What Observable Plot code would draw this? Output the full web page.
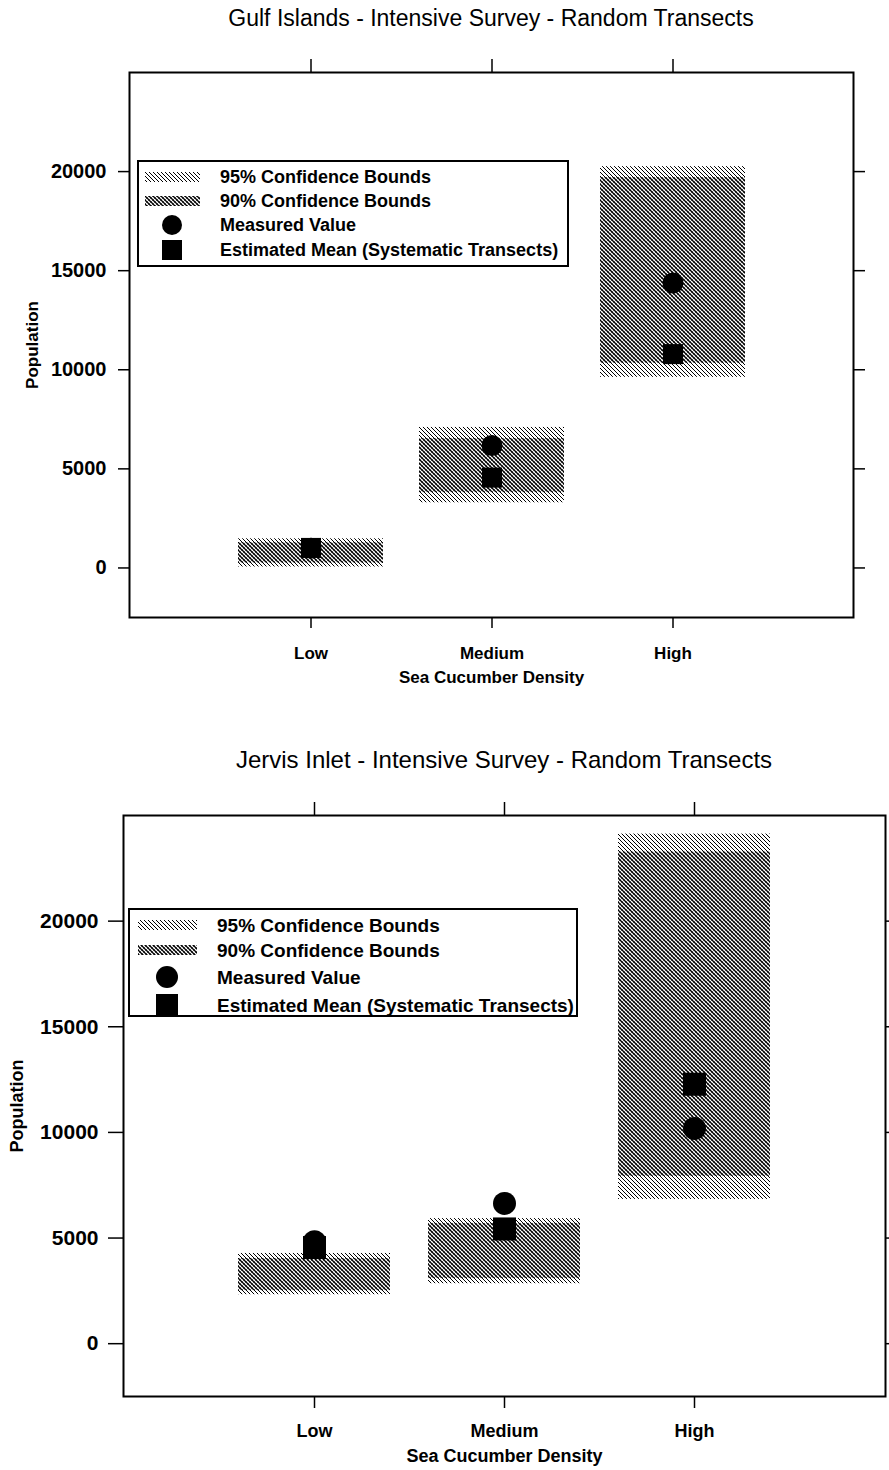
<!DOCTYPE html>
<html><head><meta charset="utf-8">
<script src="https://cdn.jsdelivr.net/npm/d3@7"></script>
<script src="https://cdn.jsdelivr.net/npm/@observablehq/plot@0.6"></script>
<style>
body{margin:0;background:#fff;font-family:"Liberation Sans",Arial,sans-serif;}
#page{position:relative;width:889px;height:1470px;overflow:hidden;background:#fff;}
.title{position:absolute;transform:translate(-50%,-50%);white-space:nowrap;color:#000;}
.chart{position:absolute;left:0;}
.legend{position:absolute;overflow:visible;}
</style></head><body>
<svg width="0" height="0" style="position:absolute">
<defs>
<pattern id="p95" patternUnits="userSpaceOnUse" width="4" height="4">
  <rect width="4" height="4" fill="#fff"/>
  <path d="M-1,-1L5,5M-1,3L1,5M3,-1L5,1" stroke="#000" stroke-width="1.0"/>
</pattern>
<pattern id="p90" patternUnits="userSpaceOnUse" width="4" height="4">
  <rect width="4" height="4" fill="#fff"/>
  <path d="M-1,-1L5,5M-1,3L1,5M3,-1L5,1" stroke="#000" stroke-width="1.3"/>
  <path d="M-1,5L5,-1M-1,1L1,-1M3,5L5,3" stroke="#000" stroke-width="0.5"/>
</pattern>
</defs>
</svg>
<div id="page">
  <div class="title" id="t1" style="left:491px;top:18px;font-size:23px;">Gulf Islands - Intensive Survey - Random Transects</div>
  <div class="title" id="t2" style="left:504px;top:760px;font-size:24px;">Jervis Inlet - Intensive Survey - Random Transects</div>
  <div class="chart" id="c1" style="top:0px;"></div>
  <div class="chart" id="c2" style="top:740px;"></div>
</div>
<script>
// ---- data ----
const categories = ["Low", "Medium", "High"];
const yTicks = [0, 5000, 10000, 15000, 20000];
const yDomain = [-2500, 25000];

// Gulf Islands
const gulf95Lo = [50, 3290, 9620];
const gulf95Hi = [1470, 7090, 20250];
const gulf90Lo = [250, 3800, 10330];
const gulf90Hi = [1270, 6530, 19700];
const gulfMeasured = [1000, 6180, 14380];
const gulfMean = [1010, 4560, 10790];

// Jervis Inlet
const jervis95Lo = [2320, 2840, 6830];
const jervis95Hi = [4270, 5920, 24120];
const jervis90Lo = [2510, 3080, 7920];
const jervis90Hi = [4030, 5690, 23270];
const jervisMeasured = [4830, 6640, 10190];
const jervisMean = [4550, 5430, 12280];

const legendLabels = ["95% Confidence Bounds", "90% Confidence Bounds", "Measured Value", "Estimated Mean (Systematic Transects)"];

const FONT = '"Liberation Sans", Arial, sans-serif';

function makeChart(cfg) {
  const rows = categories.map((c, i) => ({
    cat: c, lo95: cfg.lo95[i], hi95: cfg.hi95[i], lo90: cfg.lo90[i], hi90: cfg.hi90[i],
    measured: cfg.measured[i], mean: cfg.mean[i]
  }));
  return Plot.plot({
    width: 889, height: cfg.height,
    marginLeft: cfg.ml, marginRight: cfg.mr, marginTop: cfg.mt, marginBottom: cfg.mb,
    style: {fontFamily: FONT, fontSize: cfg.fs + "px", fontWeight: "bold", color: "#000", background: "transparent", overflow: "visible"},
    x: {type: "band", domain: categories, paddingInner: 0.2, paddingOuter: 0.6, axis: null},
    y: {domain: yDomain, axis: null},
    marks: [
      Plot.barY(rows, {x: "cat", y1: "lo95", y2: "hi95", fill: "url(#p95)"}),
      Plot.barY(rows, {x: "cat", y1: "lo90", y2: "hi90", fill: "url(#p90)"}),
      Plot.dot(rows, {x: "cat", y: "measured", r: cfg.rc, fill: "#000", symbol: "circle"}),
      Plot.dot(rows, {x: "cat", y: "mean", r: cfg.rs, fill: "#000", symbol: "square"}),
      Plot.axisY({anchor: "left", ticks: yTicks, tickSize: cfg.yts, tickPadding: cfg.ytp, strokeWidth: 1.5,
        fontSize: cfg.yfs, tickFormat: d3.format("d"), label: null}),
      Plot.axisY({anchor: "left", ticks: [], label: "Population", labelAnchor: "center", labelOffset: cfg.ylo, labelArrow: "none", fontSize: cfg.fs}),
      Plot.axisY({anchor: "right", ticks: yTicks, tickSize: cfg.yts, strokeWidth: 1.5, tickFormat: () => "", label: null}),
      Plot.axisX({anchor: "bottom", tickSize: cfg.xts, tickPadding: cfg.xtp, strokeWidth: 1.5,
        label: "Sea Cucumber Density", labelAnchor: "center", labelOffset: cfg.xlo, labelArrow: "none"}),
      Plot.axisX({anchor: "top", tickSize: 14, strokeWidth: 1.5, tickFormat: () => "", label: null}),
      Plot.frame({stroke: "#000", strokeWidth: 2})
    ]
  });
}

function makeLegend(L) {
  const svg = d3.create("svg").attr("class", "legend")
    .attr("width", L.w).attr("height", L.h)
    .style("left", L.x + "px").style("top", L.y + "px");
  svg.append("rect").attr("x", 1).attr("y", 1).attr("width", L.w - 2).attr("height", L.h - 2)
    .attr("fill", "#fff").attr("stroke", "#000").attr("stroke-width", 2);
  svg.append("rect").attr("x", L.sx).attr("y", L.rows[0] - 5).attr("width", L.sw).attr("height", 10).attr("fill", "url(#p95)");
  svg.append("rect").attr("x", L.sx).attr("y", L.rows[1] - 5).attr("width", L.sw).attr("height", 10).attr("fill", "url(#p90)");
  svg.append("circle").attr("cx", L.cx).attr("cy", L.rows[2]).attr("r", L.r).attr("fill", "#000");
  svg.append("rect").attr("x", L.cx - L.r).attr("y", L.rows[3] - L.r).attr("width", 2 * L.r).attr("height", 2 * L.r).attr("fill", "#000");
  legendLabels.forEach((t, i) => {
    svg.append("text").attr("x", L.tx).attr("y", L.rows[i]).attr("dy", "0.35em")
      .attr("font-family", FONT).attr("font-weight", "bold").attr("font-size", L.fs).text(t);
  });
  return svg.node();
}

document.getElementById("c1").appendChild(makeChart({
  lo95: gulf95Lo, hi95: gulf95Hi, lo90: gulf90Lo, hi90: gulf90Hi, measured: gulfMeasured, mean: gulfMean,
  height: 720, ml: 129, mr: 36, mt: 72, mb: 103, fs: 17, yfs: 20,
  rc: 10.5, rs: 11.3, yts: 11, ytp: 12, ylo: 104, xts: 11, xtp: 18, xlo: 65
}));
document.getElementById("c2").appendChild(makeChart({
  lo95: jervis95Lo, hi95: jervis95Hi, lo90: jervis90Lo, hi90: jervis90Hi, measured: jervisMeasured, mean: jervisMean,
  height: 730, ml: 123, mr: 4, mt: 75, mb: 74, fs: 18, yfs: 21,
  rc: 11.5, rs: 13, yts: 15, ytp: 10, ylo: 113, xts: 12, xtp: 16, xlo: 65
}));
const page = document.getElementById("page");
page.appendChild(makeLegend({x: 137, y: 160, w: 432, h: 107, rows: [17, 41, 65, 90], sx: 8, sw: 55, cx: 35, r: 10, tx: 83, fs: 18}));
page.appendChild(makeLegend({x: 128, y: 908, w: 450, h: 109, rows: [17, 42, 69, 97], sx: 10, sw: 59, cx: 39, r: 11, tx: 89, fs: 19}));
</script>
</body></html>
